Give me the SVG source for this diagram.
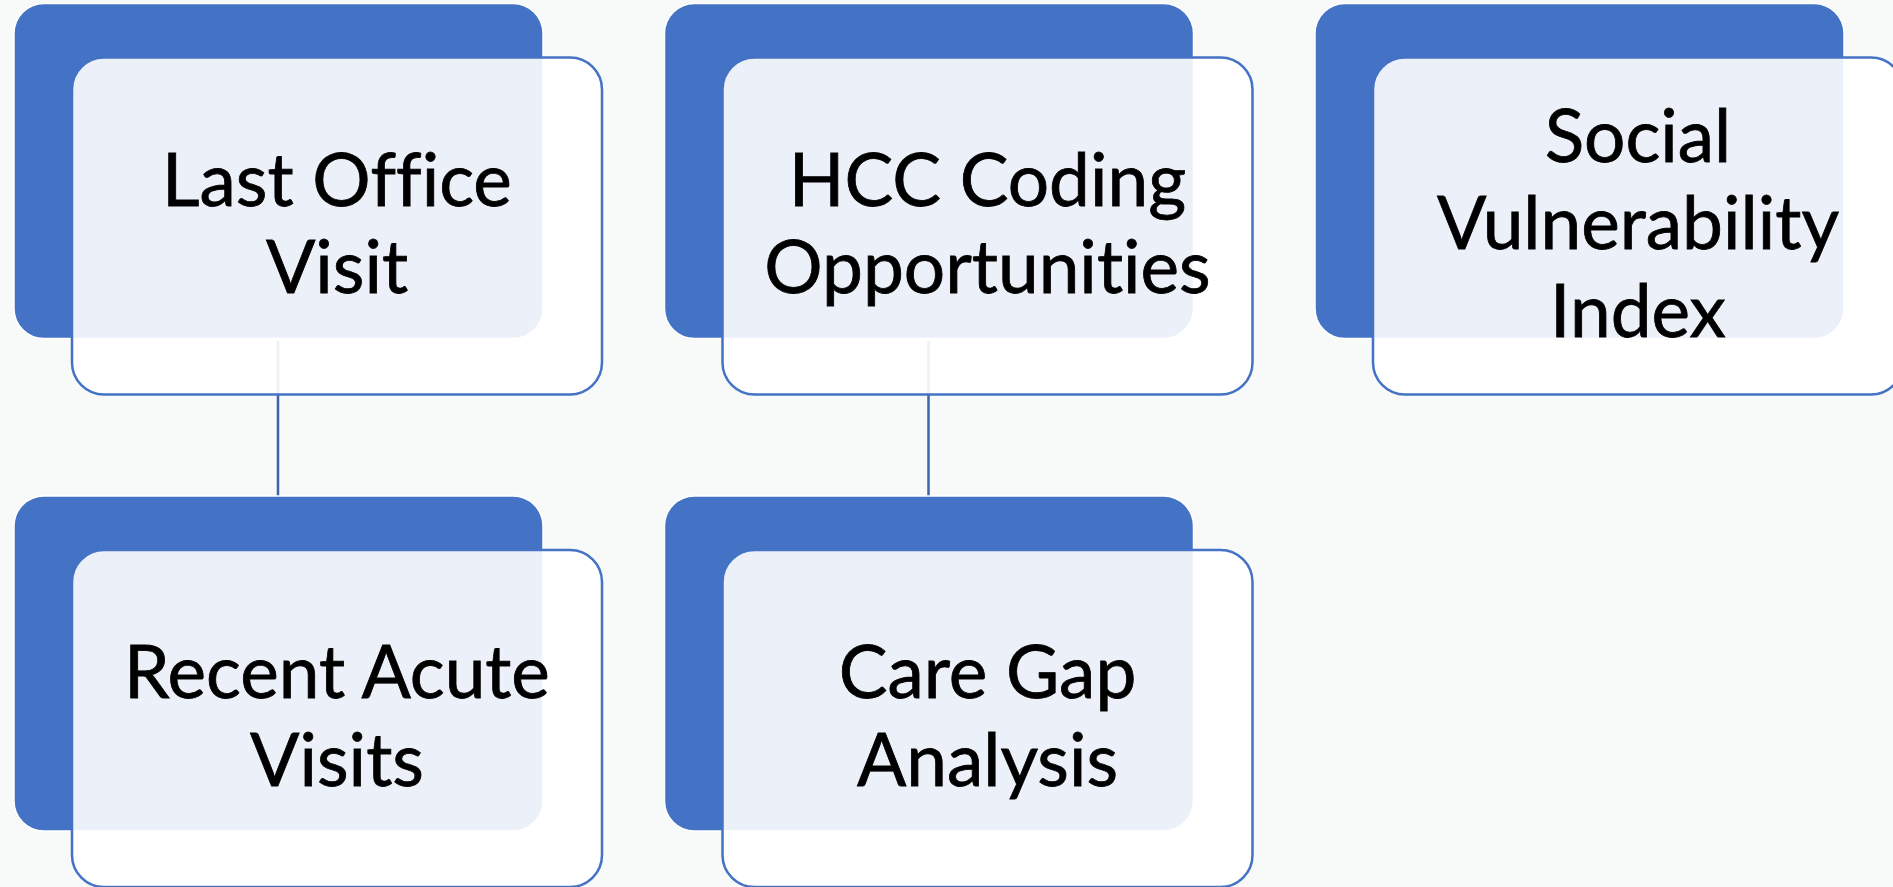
<svg xmlns="http://www.w3.org/2000/svg" width="1893" height="887" viewBox="0 0 1893 887">
  <style>
    .back { fill: #4472c4; stroke: #ffffff; stroke-width: 1.5; }
    .front { fill: #ffffff; fill-opacity: 0.9; stroke: #4472c4; stroke-width: 2.5; }
    .label { font-family: Lato, "Liberation Sans", sans-serif; font-size: 73px; fill: #000000; stroke: #000000; stroke-width: 0.8; text-anchor: middle; font-variant-ligatures: none; font-feature-settings: "liga" 0, "clig" 0; }
    .link { stroke: #3d63ab; stroke-width: 2.5; fill: none; }
  </style>
  <rect x="0" y="0" width="1893" height="887" fill="#f8f9f9"/>

  <!-- vertical links between stacked cards -->
  <g id="connectors">
    <line class="link" x1="278" y1="341" x2="278" y2="496"/>
    <line class="link" x1="928.5" y1="341" x2="928.5" y2="496"/>
  </g>

  <g id="node-last-office-visit">
    <rect class="back" x="14" y="3.5" width="529" height="335" rx="30"/>
    <rect class="front" x="72" y="57.5" width="530" height="337" rx="32"/>
    <text class="label" x="337" y="206">Last Office</text>
    <text class="label" x="337" y="293">Visit</text>
  </g>

  <g id="node-hcc-coding">
    <rect class="back" x="664.5" y="3.5" width="529" height="335" rx="30"/>
    <rect class="front" x="722.5" y="57.5" width="530" height="337" rx="32"/>
    <text class="label" x="987.5" y="206">HCC Coding</text>
    <text class="label" x="987.5" y="293">Opportunities</text>
  </g>

  <g id="node-social-vulnerability">
    <rect class="back" x="1315" y="3.5" width="529" height="335" rx="30"/>
    <rect class="front" x="1373" y="57.5" width="530" height="337" rx="32"/>
    <text class="label" x="1638" y="162">Social</text>
    <text class="label" x="1638" y="248.5">Vulnerability</text>
    <text class="label" x="1638" y="336.5">Index</text>
  </g>

  <g id="node-recent-acute-visits">
    <rect class="back" x="14" y="496" width="529" height="335" rx="30"/>
    <rect class="front" x="72" y="550" width="530" height="337" rx="32"/>
    <text class="label" x="337" y="698">Recent Acute</text>
    <text class="label" x="337" y="786">Visits</text>
  </g>

  <g id="node-care-gap-analysis">
    <rect class="back" x="664.5" y="496" width="529" height="335" rx="30"/>
    <rect class="front" x="722.5" y="550" width="530" height="337" rx="32"/>
    <text class="label" x="987.5" y="698">Care Gap</text>
    <text class="label" x="987.5" y="786">Analysis</text>
  </g>
</svg>
